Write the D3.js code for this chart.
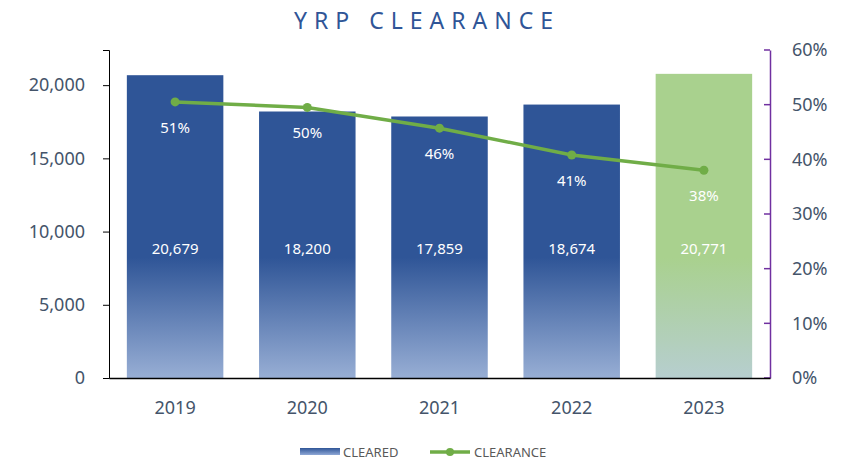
<!DOCTYPE html>
<html>
<head>
<meta charset="utf-8">
<script src="https://cdn.jsdelivr.net/npm/d3@7"></script>
<style>
  body { margin: 0; background: #fff; }
  text { font-family: "Noto Sans", "Open Sans", sans-serif; }
</style>
</head>
<body>
<div id="chart"></div>
<script>
const years = ['2019', '2020', '2021', '2022', '2023']
const cleared = [20679, 18200, 17859, 18674, 20771]
const clearance = [0.505, 0.495, 0.457, 0.408, 0.380]
const clearanceLabels = ['51%', '50%', '46%', '41%', '38%']
const leftTicks = [0, 5000, 10000, 15000, 20000]
const rightTicks = [0, 0.1, 0.2, 0.3, 0.4, 0.5, 0.6]

const width = 850
const height = 461
const margin = {top: 50, right: 80, bottom: 83, left: 109}
const chartWidth = width - margin.left - margin.right
const chartHeight = height - margin.top - margin.bottom

const axisText = '#44546A'

const svg = d3.select('#chart').append('svg')
  .attr('width', width)
  .attr('height', height)

const defs = svg.append('defs')
const blueGrad = defs.append('linearGradient')
  .attr('id', 'blueGrad')
  .attr('gradientUnits', 'userSpaceOnUse')
  .attr('x1', 0).attr('x2', 0)
  .attr('y1', margin.top).attr('y2', margin.top + chartHeight)
blueGrad.append('stop').attr('offset', '0%').attr('stop-color', '#2F5597')
blueGrad.append('stop').attr('offset', '48%').attr('stop-color', '#2F5597')
blueGrad.append('stop').attr('offset', '100%').attr('stop-color', '#C3D3EE')

const greenGrad = defs.append('linearGradient')
  .attr('id', 'greenGrad')
  .attr('gradientUnits', 'userSpaceOnUse')
  .attr('x1', 0).attr('x2', 0)
  .attr('y1', margin.top).attr('y2', margin.top + chartHeight)
greenGrad.append('stop').attr('offset', '0%').attr('stop-color', '#A9D18E')
greenGrad.append('stop').attr('offset', '48%').attr('stop-color', '#A9D18E')
greenGrad.append('stop').attr('offset', '100%').attr('stop-color', '#BCCDEA')

const legendGrad = defs.append('linearGradient')
  .attr('id', 'legendGrad')
  .attr('x1', 0).attr('x2', 0).attr('y1', 0).attr('y2', 1)
legendGrad.append('stop').attr('offset', '0%').attr('stop-color', '#2F5597')
legendGrad.append('stop').attr('offset', '100%').attr('stop-color', '#8FA8D6')

const g = svg.append('g')
  .attr('transform', `translate(${margin.left}, ${margin.top})`)

const xScale = d3.scaleBand()
  .domain(years)
  .range([0, chartWidth])
  .paddingInner(0.27)
  .paddingOuter(0.135)

const yLeft = d3.scaleLinear()
  .domain([0, 22400])
  .range([chartHeight, 0])

const yRight = d3.scaleLinear()
  .domain([0, 0.6])
  .range([chartHeight, 0])

// title
svg.append('text')
  .attr('x', width / 2 + 2)
  .attr('y', 29)
  .attr('text-anchor', 'middle')
  .attr('fill', '#2F5597')
  .style('font-size', '23px')
  .style('letter-spacing', '7px')
  .text('YRP CLEARANCE')

// bars
g.selectAll('.bar')
  .data(cleared)
  .enter()
  .append('rect')
  .attr('class', 'bar')
  .attr('x', (d, i) => xScale(years[i]))
  .attr('width', xScale.bandwidth())
  .attr('y', d => yLeft(d))
  .attr('height', d => chartHeight - yLeft(d))
  .attr('fill', (d, i) => i == 4 ? 'url(#greenGrad)' : 'url(#blueGrad)')

// value labels
g.selectAll('.valueText')
  .data(cleared)
  .enter()
  .append('text')
  .attr('class', 'valueText')
  .attr('x', (d, i) => xScale(years[i]) + xScale.bandwidth() / 2)
  .attr('y', yLeft(8500))
  .attr('text-anchor', 'middle')
  .attr('fill', '#fff')
  .style('font-size', '15px')
  .text(d => d3.format(',')(d))

// axes
const leftAxis = g.append('g')
  .call(d3.axisLeft(yLeft).tickValues(leftTicks).tickFormat(d3.format(',')).tickSize(6).tickPadding(18))
leftAxis.select('.domain').attr('stroke', '#000')
leftAxis.selectAll('.tick line').attr('stroke', '#000')
leftAxis.selectAll('.tick text').attr('fill', axisText).style('font-size', '18px')

const rightAxis = g.append('g')
  .attr('transform', `translate(${chartWidth}, 0)`)
  .call(d3.axisRight(yRight).tickValues(rightTicks).tickFormat(d3.format('.0%')).tickSize(0).tickPadding(22))
rightAxis.select('.domain').attr('stroke', '#7030A0').attr('stroke-width', 1.5)
rightAxis.selectAll('.tick text').attr('fill', axisText).style('font-size', '18px')
rightAxis.selectAll('.tickmark')
  .data(rightTicks)
  .enter()
  .append('line')
  .attr('x1', -6).attr('x2', 0)
  .attr('y1', d => yRight(d)).attr('y2', d => yRight(d))
  .attr('stroke', '#7030A0').attr('stroke-width', 1.5)

const bottomAxis = g.append('g')
  .attr('transform', `translate(0, ${chartHeight})`)
  .call(d3.axisBottom(xScale).tickSize(0).tickPadding(23))
bottomAxis.select('.domain').attr('stroke', '#000').attr('stroke-width', 1.5)
bottomAxis.selectAll('.tick text').attr('fill', axisText).style('font-size', '18px')

// clearance line
const line = d3.line()
  .x((d, i) => xScale(years[i]) + xScale.bandwidth() / 2)
  .y(d => yRight(d))

g.append('path')
  .datum(clearance)
  .attr('d', line)
  .attr('fill', 'none')
  .attr('stroke', '#70AD47')
  .attr('stroke-width', 3.5)

g.selectAll('.dot')
  .data(clearance)
  .enter()
  .append('circle')
  .attr('class', 'dot')
  .attr('cx', (d, i) => xScale(years[i]) + xScale.bandwidth() / 2)
  .attr('cy', d => yRight(d))
  .attr('r', 4.5)
  .attr('fill', '#70AD47')

g.selectAll('.pctText')
  .data(clearance)
  .enter()
  .append('text')
  .attr('class', 'pctText')
  .attr('x', (d, i) => xScale(years[i]) + xScale.bandwidth() / 2)
  .attr('y', d => yRight(d) + 31)
  .attr('text-anchor', 'middle')
  .attr('fill', '#fff')
  .style('font-size', '15px')
  .text((d, i) => clearanceLabels[i])

// legend
const legend = svg.append('g').attr('transform', 'translate(300, 452)')
legend.append('rect')
  .attr('x', 0).attr('y', -4).attr('width', 40).attr('height', 7)
  .attr('fill', 'url(#legendGrad)')
legend.append('text')
  .attr('x', 43).attr('y', 5)
  .attr('fill', '#595959')
  .style('font-size', '13px')
  .text('CLEARED')
legend.append('line')
  .attr('x1', 130).attr('x2', 170).attr('y1', 0).attr('y2', 0)
  .attr('stroke', '#70AD47').attr('stroke-width', 3.5)
legend.append('circle')
  .attr('cx', 150).attr('cy', 0).attr('r', 4)
  .attr('fill', '#70AD47')
legend.append('text')
  .attr('x', 174).attr('y', 5)
  .attr('fill', '#595959')
  .style('font-size', '13px')
  .text('CLEARANCE')
</script>
</body>
</html>
